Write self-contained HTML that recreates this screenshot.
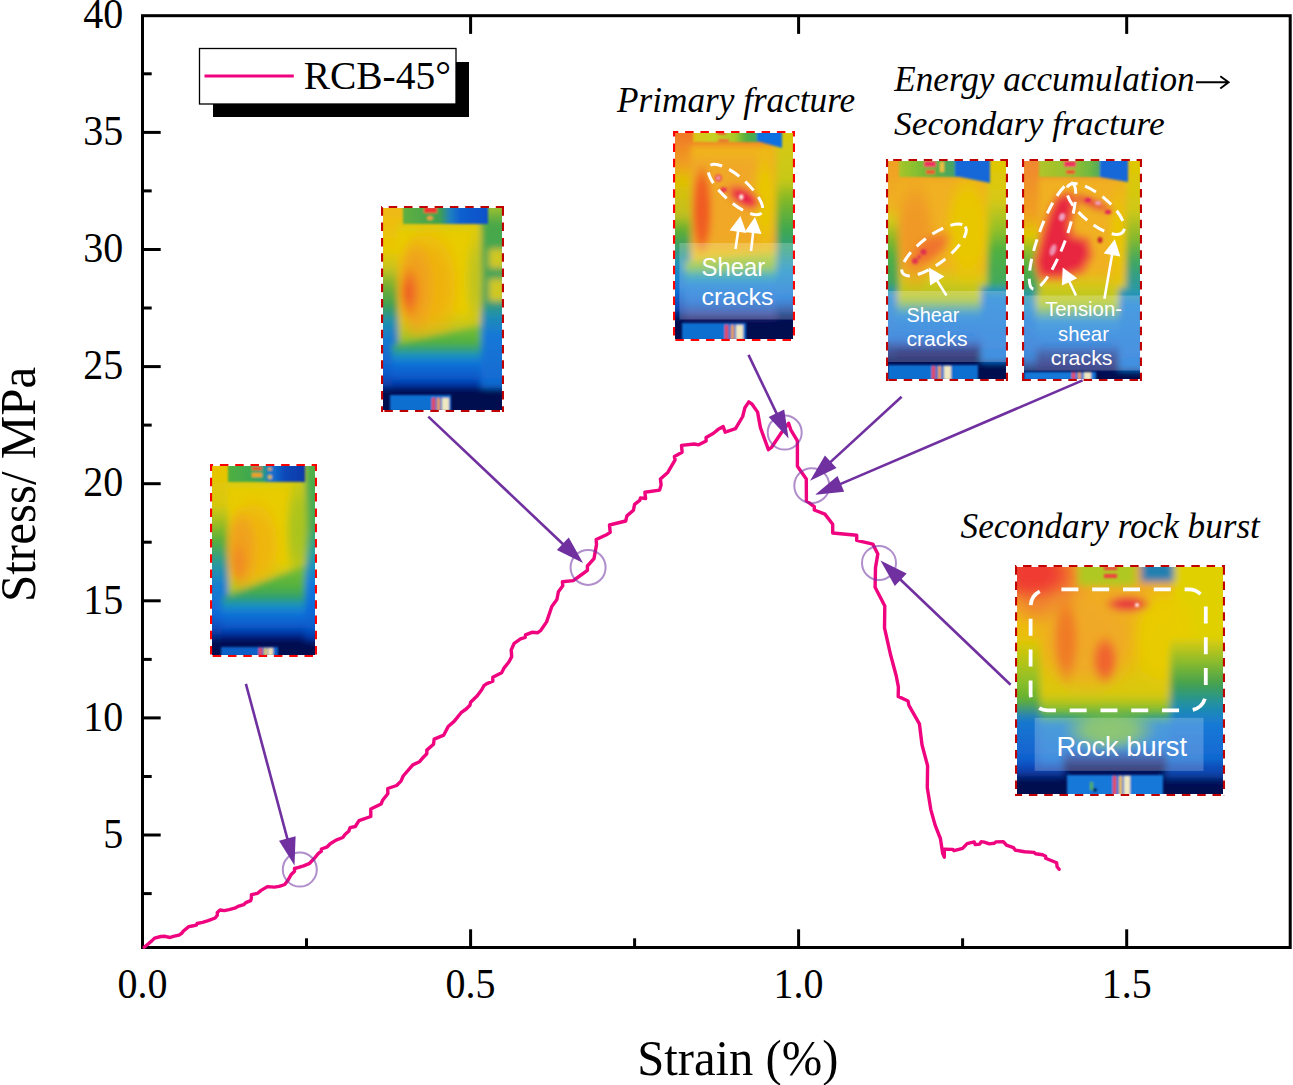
<!DOCTYPE html>
<html><head><meta charset="utf-8"><style>
html,body{margin:0;padding:0;background:#fff;overflow:hidden;}
svg{display:block;}
.serif{font-family:"Liberation Serif",serif;}
.sans{font-family:"Liberation Sans",sans-serif;}
</style></head><body>
<svg width="1293" height="1085" viewBox="0 0 1293 1085">
<defs>
<filter id="blur3" x="-5%" y="-5%" width="110%" height="110%"><feGaussianBlur stdDeviation="3"/></filter>
<filter id="blur5" x="-5%" y="-5%" width="110%" height="110%"><feGaussianBlur stdDeviation="5"/></filter>
</defs>
<rect width="1293" height="1085" fill="#fff"/>

<g stroke="#000" stroke-width="3" fill="none" stroke-linecap="square">
<rect x="142.5" y="15.7" width="1147.7" height="931.8"/>
<line x1="142.5" y1="893.6" x2="151.7" y2="893.6" stroke-linecap="butt"/>
<line x1="142.5" y1="835.0" x2="160.7" y2="835.0" stroke-linecap="butt"/>
<line x1="142.5" y1="776.5" x2="151.7" y2="776.5" stroke-linecap="butt"/>
<line x1="142.5" y1="717.9" x2="160.7" y2="717.9" stroke-linecap="butt"/>
<line x1="142.5" y1="659.4" x2="151.7" y2="659.4" stroke-linecap="butt"/>
<line x1="142.5" y1="600.8" x2="160.7" y2="600.8" stroke-linecap="butt"/>
<line x1="142.5" y1="542.2" x2="151.7" y2="542.2" stroke-linecap="butt"/>
<line x1="142.5" y1="483.7" x2="160.7" y2="483.7" stroke-linecap="butt"/>
<line x1="142.5" y1="425.1" x2="151.7" y2="425.1" stroke-linecap="butt"/>
<line x1="142.5" y1="366.6" x2="160.7" y2="366.6" stroke-linecap="butt"/>
<line x1="142.5" y1="308.0" x2="151.7" y2="308.0" stroke-linecap="butt"/>
<line x1="142.5" y1="249.5" x2="160.7" y2="249.5" stroke-linecap="butt"/>
<line x1="142.5" y1="190.9" x2="151.7" y2="190.9" stroke-linecap="butt"/>
<line x1="142.5" y1="132.4" x2="160.7" y2="132.4" stroke-linecap="butt"/>
<line x1="142.5" y1="73.8" x2="151.7" y2="73.8" stroke-linecap="butt"/>
<line x1="306.5" y1="947.5" x2="306.5" y2="938.3" stroke-linecap="butt"/>
<line x1="470.6" y1="947.5" x2="470.6" y2="929.3" stroke-linecap="butt"/>
<line x1="470.6" y1="15.7" x2="470.6" y2="33.9" stroke-linecap="butt"/>
<line x1="634.6" y1="947.5" x2="634.6" y2="938.3" stroke-linecap="butt"/>
<line x1="798.6" y1="947.5" x2="798.6" y2="929.3" stroke-linecap="butt"/>
<line x1="798.6" y1="15.7" x2="798.6" y2="33.9" stroke-linecap="butt"/>
<line x1="962.6" y1="947.5" x2="962.6" y2="938.3" stroke-linecap="butt"/>
<line x1="1126.7" y1="947.5" x2="1126.7" y2="929.3" stroke-linecap="butt"/>
<line x1="1126.7" y1="15.7" x2="1126.7" y2="33.9" stroke-linecap="butt"/>
</g>
<g class="serif" font-size="40" fill="#000">
<text transform="translate(123.3,847.7) scale(1,1.055)" text-anchor="end">5</text>
<text transform="translate(123.3,730.6) scale(1,1.055)" text-anchor="end">10</text>
<text transform="translate(123.3,613.5) scale(1,1.055)" text-anchor="end">15</text>
<text transform="translate(123.3,496.4) scale(1,1.055)" text-anchor="end">20</text>
<text transform="translate(123.3,379.3) scale(1,1.055)" text-anchor="end">25</text>
<text transform="translate(123.3,262.2) scale(1,1.055)" text-anchor="end">30</text>
<text transform="translate(123.3,145.1) scale(1,1.055)" text-anchor="end">35</text>
<text transform="translate(123.3,28.0) scale(1,1.055)" text-anchor="end">40</text>
<text transform="translate(142.5,998.4) scale(1,1.055)" text-anchor="middle">0.0</text>
<text transform="translate(470.6,998.4) scale(1,1.055)" text-anchor="middle">0.5</text>
<text transform="translate(798.6,998.4) scale(1,1.055)" text-anchor="middle">1.0</text>
<text transform="translate(1126.7,998.4) scale(1,1.055)" text-anchor="middle">1.5</text>
</g>
<text class="serif" x="637.15" y="1075.10" font-size="51.05" textLength="201.19" lengthAdjust="spacingAndGlyphs" fill="#000">Strain (%)</text>
<g transform="translate(34.8,598.7) rotate(-90)"><text class="serif" x="-3.27" y="0.00" font-size="51.05" textLength="235.24" lengthAdjust="spacingAndGlyphs" fill="#000">Stress/ MPa</text></g>
<rect x="213" y="62" width="256" height="55" fill="#000"/>
<rect x="199.5" y="48.5" width="256.5" height="55.5" fill="#fff" stroke="#000" stroke-width="1.3"/>
<line x1="204.5" y1="75.9" x2="293.8" y2="75.9" stroke="#EF037F" stroke-width="3"/>
<text class="serif" x="303.66" y="88.90" font-size="40.47" textLength="147.26" lengthAdjust="spacingAndGlyphs" fill="#000">RCB-45°</text>
<clipPath id="cl1"><rect x="212.1" y="466.1" width="102.8" height="188.8"/></clipPath>
<g clip-path="url(#cl1)">
<filter id="bf1" x="170" y="424" width="187" height="273" filterUnits="userSpaceOnUse"><feGaussianBlur stdDeviation="3"/></filter>
<g filter="url(#bf1)">
<linearGradient id="g1" gradientUnits="userSpaceOnUse" x1="0" y1="466" x2="0" y2="672"><stop offset="0.0000" stop-color="#E8C400"/><stop offset="0.1893" stop-color="#D8C810"/><stop offset="0.2621" stop-color="#A8C020"/><stop offset="0.3592" stop-color="#58B038"/><stop offset="0.4806" stop-color="#2898A0"/><stop offset="0.5777" stop-color="#1880D0"/><stop offset="0.7233" stop-color="#1068D8"/><stop offset="0.8058" stop-color="#0840B0"/><stop offset="0.8544" stop-color="#000850"/><stop offset="1.0000" stop-color="#000850"/></linearGradient>
<rect x="195" y="450" width="137" height="222" fill="url(#g1)" />
<linearGradient id="g2" gradientUnits="userSpaceOnUse" x1="0" y1="470" x2="0" y2="650"><stop offset="0.0000" stop-color="#50B048"/><stop offset="0.3056" stop-color="#40A858"/><stop offset="0.4722" stop-color="#20A0A8"/><stop offset="0.6389" stop-color="#1078E0"/><stop offset="0.8611" stop-color="#0860D0"/><stop offset="0.9444" stop-color="#0030A0"/><stop offset="1.0000" stop-color="#000850"/></linearGradient>
<rect x="304" y="450" width="28" height="222" fill="url(#g2)" />
<linearGradient id="g3" gradientUnits="userSpaceOnUse" x1="0" y1="482" x2="0" y2="598"><stop offset="0.0000" stop-color="#D8CC10"/><stop offset="0.0862" stop-color="#E8CC00"/><stop offset="0.6724" stop-color="#E8CC00"/><stop offset="0.8448" stop-color="#C8C818"/><stop offset="1.0000" stop-color="#90C028"/></linearGradient>
<polygon points="228,482 305,482 305,565 228,598" fill="url(#g3)" />
<radialGradient id="r4"><stop offset="0" stop-color="#A8C420" stop-opacity="1"/><stop offset="0.45" stop-color="#A8C420" stop-opacity="0.9"/><stop offset="1" stop-color="#A8C420" stop-opacity="0"/></radialGradient>
<ellipse cx="298" cy="530" rx="14" ry="60" fill="url(#r4)" transform="rotate(0 298 530)"/>
<radialGradient id="r5"><stop offset="0" stop-color="#F0B410" stop-opacity="1"/><stop offset="0.5" stop-color="#F0B410" stop-opacity="0.9"/><stop offset="1" stop-color="#F0B410" stop-opacity="0"/></radialGradient>
<ellipse cx="254" cy="545" rx="30" ry="52" fill="url(#r5)" transform="rotate(0 254 545)"/>
<radialGradient id="r6"><stop offset="0" stop-color="#F0A020" stop-opacity="1"/><stop offset="0.55" stop-color="#F0A020" stop-opacity="0.9"/><stop offset="1" stop-color="#F0A020" stop-opacity="0"/></radialGradient>
<ellipse cx="241" cy="550" rx="17" ry="44" fill="url(#r6)" transform="rotate(0 241 550)"/>
<radialGradient id="r7"><stop offset="0" stop-color="#F08C20" stop-opacity="1"/><stop offset="0.45" stop-color="#F08C20" stop-opacity="0.9"/><stop offset="1" stop-color="#F08C20" stop-opacity="0"/></radialGradient>
<ellipse cx="239" cy="562" rx="9" ry="22" fill="url(#r7)" transform="rotate(0 239 562)"/>
<linearGradient id="g8" gradientUnits="userSpaceOnUse" x1="0" y1="565" x2="0" y2="641"><stop offset="0.0000" stop-color="#80C030"/><stop offset="0.3026" stop-color="#50B040"/><stop offset="0.4342" stop-color="#30A070"/><stop offset="0.5395" stop-color="#1890C8"/><stop offset="0.6579" stop-color="#1070D8"/><stop offset="0.8158" stop-color="#0858C8"/><stop offset="0.9079" stop-color="#0030A0"/><stop offset="1.0000" stop-color="#000850"/></linearGradient>
<polygon points="222,598 305,565 305,650 222,650" fill="url(#g8)" />
<rect x="195" y="641" width="137" height="31" fill="#000850" />
</g>
<filter id="bf2" x="170" y="424" width="187" height="273" filterUnits="userSpaceOnUse"><feGaussianBlur stdDeviation="1.2"/></filter>
<g filter="url(#bf2)">
<linearGradient id="g9" gradientUnits="userSpaceOnUse" x1="228" y1="0" x2="305" y2="0"><stop offset="0.0000" stop-color="#50B040"/><stop offset="0.2857" stop-color="#40A850"/><stop offset="0.4416" stop-color="#30A070"/><stop offset="0.5455" stop-color="#1878D0"/><stop offset="0.7403" stop-color="#0848B8"/><stop offset="1.0000" stop-color="#0838A8"/></linearGradient>
<rect x="228" y="460" width="77" height="22" fill="url(#g9)" />
<rect x="252" y="467" width="10" height="3" fill="#F04020" />
<rect x="252" y="473" width="10" height="4" fill="#F0A020" />
<ellipse cx="270" cy="477" rx="2" ry="2" fill="#F0C020" transform="rotate(0 270 477)" />
<ellipse cx="270" cy="469" rx="2" ry="1.5" fill="#F0B020" transform="rotate(0 270 469)" />
<rect x="221" y="647" width="57" height="9" fill="#1060C8" />
<rect x="259" y="648" width="3" height="8" fill="#F04040" />
<rect x="264" y="648" width="3" height="8" fill="#E0D060" />
<rect x="268" y="648" width="5" height="8" fill="#F0E0B0" />
</g>
</g>
<line x1="210" y1="465.05" x2="317" y2="465.05" stroke="#FF0000" stroke-width="2.1" stroke-dasharray="8.5 6.8" stroke-dashoffset="5.40"/>
<line x1="211.05" y1="464" x2="211.05" y2="657" stroke="#FF0000" stroke-width="2.1" stroke-dasharray="8.5 6.8" stroke-dashoffset="1.50"/>
<line x1="315.95" y1="464" x2="315.95" y2="657" stroke="#FF0000" stroke-width="2.1" stroke-dasharray="8.5 6.8" stroke-dashoffset="1.50"/>
<line x1="317" y1="655.95" x2="210" y2="655.95" stroke="#FF0000" stroke-width="2.1" stroke-dasharray="8.5 6.8" stroke-dashoffset="11.30"/>
<clipPath id="cl2"><rect x="383.1" y="208.1" width="118.8" height="201.8"/></clipPath>
<g clip-path="url(#cl2)">
<filter id="bf3" x="341" y="166" width="203" height="286" filterUnits="userSpaceOnUse"><feGaussianBlur stdDeviation="3"/></filter>
<g filter="url(#bf3)">
<linearGradient id="g10" gradientUnits="userSpaceOnUse" x1="0" y1="207" x2="0" y2="428"><stop offset="0.0000" stop-color="#F0B818"/><stop offset="0.1946" stop-color="#E8C800"/><stop offset="0.2760" stop-color="#C8C420"/><stop offset="0.3529" stop-color="#78B030"/><stop offset="0.4434" stop-color="#40A050"/><stop offset="0.5204" stop-color="#2090B0"/><stop offset="0.6018" stop-color="#1878D0"/><stop offset="0.7376" stop-color="#1060D0"/><stop offset="0.8054" stop-color="#0840B0"/><stop offset="0.8507" stop-color="#000850"/><stop offset="1.0000" stop-color="#000850"/></linearGradient>
<rect x="366" y="192" width="154" height="236" fill="url(#g10)" />
<linearGradient id="g11" gradientUnits="userSpaceOnUse" x1="0" y1="207" x2="0" y2="408"><stop offset="0.0000" stop-color="#A0C030"/><stop offset="0.0846" stop-color="#48A848"/><stop offset="0.4627" stop-color="#40A060"/><stop offset="0.5373" stop-color="#2090B0"/><stop offset="0.6368" stop-color="#1878D8"/><stop offset="0.9104" stop-color="#1068D0"/><stop offset="0.9602" stop-color="#0840B0"/><stop offset="1.0000" stop-color="#000850"/></linearGradient>
<rect x="479" y="192" width="41" height="236" fill="url(#g11)" />
<rect x="489" y="249" width="17" height="19" fill="#D0C820" />
<rect x="489" y="279" width="17" height="22" fill="#D0C820" />
<linearGradient id="g12" gradientUnits="userSpaceOnUse" x1="0" y1="224" x2="0" y2="345"><stop offset="0.0000" stop-color="#D8CC10"/><stop offset="0.0909" stop-color="#E8CC00"/><stop offset="0.7107" stop-color="#E8CC00"/><stop offset="0.8760" stop-color="#C0C420"/><stop offset="1.0000" stop-color="#90C028"/></linearGradient>
<polygon points="398,224 481,224 481,325 398,345" fill="url(#g12)" />
<radialGradient id="r13"><stop offset="0" stop-color="#C0C420" stop-opacity="1"/><stop offset="0.45" stop-color="#C0C420" stop-opacity="0.9"/><stop offset="1" stop-color="#C0C420" stop-opacity="0"/></radialGradient>
<ellipse cx="475" cy="280" rx="10" ry="55" fill="url(#r13)" transform="rotate(0 475 280)"/>
<radialGradient id="r14"><stop offset="0" stop-color="#F0B010" stop-opacity="1"/><stop offset="0.5" stop-color="#F0B010" stop-opacity="0.9"/><stop offset="1" stop-color="#F0B010" stop-opacity="0"/></radialGradient>
<ellipse cx="428" cy="285" rx="36" ry="62" fill="url(#r14)" transform="rotate(0 428 285)"/>
<radialGradient id="r15"><stop offset="0" stop-color="#F0A020" stop-opacity="1"/><stop offset="0.55" stop-color="#F0A020" stop-opacity="0.9"/><stop offset="1" stop-color="#F0A020" stop-opacity="0"/></radialGradient>
<ellipse cx="415" cy="287" rx="20" ry="52" fill="url(#r15)" transform="rotate(0 415 287)"/>
<radialGradient id="r16"><stop offset="0" stop-color="#F07820" stop-opacity="1"/><stop offset="0.5" stop-color="#F07820" stop-opacity="0.9"/><stop offset="1" stop-color="#F07820" stop-opacity="0"/></radialGradient>
<ellipse cx="410" cy="292" rx="11" ry="28" fill="url(#r16)" transform="rotate(0 410 292)"/>
<radialGradient id="r17"><stop offset="0" stop-color="#EE6020" stop-opacity="1"/><stop offset="0.4" stop-color="#EE6020" stop-opacity="0.9"/><stop offset="1" stop-color="#EE6020" stop-opacity="0"/></radialGradient>
<ellipse cx="408" cy="292" rx="6" ry="16" fill="url(#r17)" transform="rotate(0 408 292)"/>
<linearGradient id="g18" gradientUnits="userSpaceOnUse" x1="0" y1="325" x2="0" y2="392"><stop offset="0.0000" stop-color="#80C030"/><stop offset="0.2687" stop-color="#50B040"/><stop offset="0.3731" stop-color="#30A080"/><stop offset="0.4627" stop-color="#1890C8"/><stop offset="0.5821" stop-color="#1070D8"/><stop offset="0.7910" stop-color="#0858C8"/><stop offset="0.9104" stop-color="#0030A0"/><stop offset="1.0000" stop-color="#000850"/></linearGradient>
<polygon points="392,345 481,325 481,398 392,398" fill="url(#g18)" />
<rect x="366" y="388" width="154" height="40" fill="#000850" />
</g>
<filter id="bf4" x="341" y="166" width="203" height="286" filterUnits="userSpaceOnUse"><feGaussianBlur stdDeviation="1.2"/></filter>
<g filter="url(#bf4)">
<linearGradient id="g19" gradientUnits="userSpaceOnUse" x1="403" y1="0" x2="488" y2="0"><stop offset="0.0000" stop-color="#60B040"/><stop offset="0.4353" stop-color="#40A050"/><stop offset="0.5529" stop-color="#2080C0"/><stop offset="0.6706" stop-color="#1060D0"/><stop offset="1.0000" stop-color="#1050C8"/></linearGradient>
<rect x="403" y="202" width="85" height="22" fill="url(#g19)" />
<rect x="424" y="207" width="13" height="6" fill="#F03030" />
<ellipse cx="430" cy="218" rx="3" ry="2" fill="#F0A040" transform="rotate(0 430 218)" />
<rect x="390" y="395" width="61" height="16" fill="#1070D0" />
<rect x="432" y="398" width="3" height="13" fill="#F04040" />
<rect x="437" y="398" width="3" height="13" fill="#F0A040" />
<rect x="442" y="398" width="7" height="13" fill="#F0E8C0" />
</g>
</g>
<line x1="381" y1="207.05" x2="504" y2="207.05" stroke="#C00000" stroke-width="2.1" stroke-dasharray="8.5 6.8" stroke-dashoffset="7.60"/>
<line x1="382.05" y1="206" x2="382.05" y2="412" stroke="#C00000" stroke-width="2.1" stroke-dasharray="8.5 6.8" stroke-dashoffset="14.00"/>
<line x1="502.95" y1="206" x2="502.95" y2="412" stroke="#C00000" stroke-width="2.1" stroke-dasharray="8.5 6.8" stroke-dashoffset="14.00"/>
<line x1="504" y1="410.95" x2="381" y2="410.95" stroke="#C00000" stroke-width="2.1" stroke-dasharray="8.5 6.8" stroke-dashoffset="11.30"/>
<clipPath id="cl3"><rect x="675.1" y="133.1" width="117.8" height="205.8"/></clipPath>
<g clip-path="url(#cl3)">
<filter id="bf5" x="633" y="91" width="202" height="290" filterUnits="userSpaceOnUse"><feGaussianBlur stdDeviation="3"/></filter>
<g filter="url(#bf5)">
<linearGradient id="g20" gradientUnits="userSpaceOnUse" x1="0" y1="133" x2="0" y2="320"><stop offset="0.0000" stop-color="#F07828"/><stop offset="0.1711" stop-color="#F0A020"/><stop offset="0.2513" stop-color="#E0C000"/><stop offset="0.4385" stop-color="#C0C020"/><stop offset="0.5187" stop-color="#60B030"/><stop offset="0.5989" stop-color="#40A060"/><stop offset="0.7059" stop-color="#2090C0"/><stop offset="0.8396" stop-color="#1070D8"/><stop offset="0.9465" stop-color="#0840B0"/><stop offset="1.0000" stop-color="#000850"/></linearGradient>
<rect x="658" y="118" width="152" height="237" fill="url(#g20)" />
<linearGradient id="g21" gradientUnits="userSpaceOnUse" x1="0" y1="133" x2="0" y2="320"><stop offset="0.0000" stop-color="#D8C810"/><stop offset="0.2513" stop-color="#C8C818"/><stop offset="0.3583" stop-color="#80B828"/><stop offset="0.5187" stop-color="#40A850"/><stop offset="0.6257" stop-color="#30A080"/><stop offset="0.7326" stop-color="#1890C8"/><stop offset="0.8930" stop-color="#1070D8"/><stop offset="1.0000" stop-color="#000850"/></linearGradient>
<rect x="775" y="118" width="35" height="237" fill="url(#g21)" />
<linearGradient id="g22" gradientUnits="userSpaceOnUse" x1="0" y1="146" x2="0" y2="268"><stop offset="0.0000" stop-color="#F0B818"/><stop offset="0.1557" stop-color="#F0A828"/><stop offset="0.7705" stop-color="#F0A828"/><stop offset="0.8934" stop-color="#E8C010"/><stop offset="1.0000" stop-color="#C8C820"/></linearGradient>
<polygon points="691,146 776,146 776,252 691,262" fill="url(#g22)" />
<radialGradient id="r23"><stop offset="0" stop-color="#E8C800" stop-opacity="1"/><stop offset="0.45" stop-color="#E8C800" stop-opacity="0.9"/><stop offset="1" stop-color="#E8C800" stop-opacity="0"/></radialGradient>
<ellipse cx="765" cy="200" rx="14" ry="60" fill="url(#r23)" transform="rotate(0 765 200)"/>
<radialGradient id="r24"><stop offset="0" stop-color="#F05820" stop-opacity="1"/><stop offset="0.6" stop-color="#F05820" stop-opacity="0.9"/><stop offset="1" stop-color="#F05820" stop-opacity="0"/></radialGradient>
<ellipse cx="702" cy="210" rx="11" ry="48" fill="url(#r24)" transform="rotate(0 702 210)"/>
<radialGradient id="r25"><stop offset="0" stop-color="#F05040" stop-opacity="1"/><stop offset="0.5" stop-color="#F05040" stop-opacity="0.9"/><stop offset="1" stop-color="#F05040" stop-opacity="0"/></radialGradient>
<ellipse cx="744" cy="197" rx="22" ry="11" fill="url(#r25)" transform="rotate(30 744 197)"/>
<radialGradient id="r26"><stop offset="0" stop-color="#E8104A" stop-opacity="1"/><stop offset="0.65" stop-color="#E8104A" stop-opacity="0.9"/><stop offset="1" stop-color="#E8104A" stop-opacity="0"/></radialGradient>
<ellipse cx="744" cy="198" rx="15" ry="7" fill="url(#r26)" transform="rotate(30 744 198)"/>
<linearGradient id="g27" gradientUnits="userSpaceOnUse" x1="0" y1="252" x2="0" y2="318"><stop offset="0.0000" stop-color="#C8C820"/><stop offset="0.2424" stop-color="#80C040"/><stop offset="0.3485" stop-color="#20A0B0"/><stop offset="0.5000" stop-color="#1880D8"/><stop offset="0.7273" stop-color="#1070D8"/><stop offset="0.8788" stop-color="#2050B0"/><stop offset="1.0000" stop-color="#302880"/></linearGradient>
<polygon points="685,262 776,252 776,322 685,322" fill="url(#g27)" />
<rect x="658" y="318" width="152" height="37" fill="#000850" />
</g>
<filter id="bf6" x="633" y="91" width="202" height="290" filterUnits="userSpaceOnUse"><feGaussianBlur stdDeviation="1.2"/></filter>
<g filter="url(#bf6)">
<linearGradient id="g28" gradientUnits="userSpaceOnUse" x1="693" y1="0" x2="758" y2="0"><stop offset="0.0000" stop-color="#E0C018"/><stop offset="0.2923" stop-color="#C8D020"/><stop offset="0.6462" stop-color="#A8C828"/><stop offset="0.8154" stop-color="#50B040"/><stop offset="1.0000" stop-color="#40A860"/></linearGradient>
<rect x="693" y="128" width="65" height="14" fill="url(#g28)" />
<polygon points="757,128 782,128 782,148 757,141" fill="#1070E0" />
<rect x="717" y="132" width="9" height="2.5" fill="#F03030" />
<rect x="718" y="139" width="11" height="2.5" fill="#F06030" />
<ellipse cx="741.3" cy="197" rx="2.2" ry="2.8" fill="#FFF0E0" transform="rotate(0 741.3 197)" />
<radialGradient id="r29"><stop offset="0" stop-color="#E83060" stop-opacity="1"/><stop offset="0.5" stop-color="#E83060" stop-opacity="0.9"/><stop offset="1" stop-color="#E83060" stop-opacity="0"/></radialGradient>
<ellipse cx="718.4" cy="178" rx="4.5" ry="4.5" fill="url(#r29)" transform="rotate(0 718.4 178)"/>
<ellipse cx="718.4" cy="178" rx="1.5" ry="1.5" fill="#F8C0D0" transform="rotate(0 718.4 178)" />
<radialGradient id="r30"><stop offset="0" stop-color="#E83050" stop-opacity="1"/><stop offset="0.5" stop-color="#E83050" stop-opacity="0.9"/><stop offset="1" stop-color="#E83050" stop-opacity="0"/></radialGradient>
<ellipse cx="723.6" cy="189.7" rx="4.5" ry="3.5" fill="url(#r30)" transform="rotate(0 723.6 189.7)"/>
<rect x="682" y="323" width="64" height="17" fill="#1070D0" />
<rect x="725" y="325" width="3" height="15" fill="#F04040" />
<rect x="731" y="325" width="3" height="15" fill="#F0A040" />
<rect x="736" y="325" width="7" height="15" fill="#F0E8C0" />
</g>
</g>
<rect x="679.4" y="243" width="114.60000000000002" height="76.5" fill="#fff" fill-opacity="0.22"/>
<line x1="673" y1="132.05" x2="795" y2="132.05" stroke="#FF0000" stroke-width="2.1" stroke-dasharray="8.5 6.8" stroke-dashoffset="3.20"/>
<line x1="674.05" y1="131" x2="674.05" y2="341" stroke="#FF0000" stroke-width="2.1" stroke-dasharray="8.5 6.8" stroke-dashoffset="2.90"/>
<line x1="793.95" y1="131" x2="793.95" y2="341" stroke="#FF0000" stroke-width="2.1" stroke-dasharray="8.5 6.8" stroke-dashoffset="2.90"/>
<line x1="795" y1="339.95" x2="673" y2="339.95" stroke="#FF0000" stroke-width="2.1" stroke-dasharray="8.5 6.8" stroke-dashoffset="11.30"/>
<ellipse cx="735.5" cy="189.5" rx="35" ry="12.5" fill="none" stroke="#fff" stroke-width="3" stroke-dasharray="12 8" transform="rotate(42 735.5 189.5)"/>
<line x1="735.5" y1="249" x2="738.2" y2="230.8" stroke="#fff" stroke-width="2.6"/>
<polygon points="740.4,216.0 746.5,233.1 729.6,230.6" fill="#fff"/>
<line x1="751" y1="251" x2="753.2" y2="231.9" stroke="#fff" stroke-width="2.6"/>
<polygon points="755.0,217.0 761.6,233.9 744.7,231.9" fill="#fff"/>
<text class="sans" x="701.52" y="276.30" font-size="25.92" textLength="63.58" lengthAdjust="spacingAndGlyphs" fill="#fff">Shear</text>
<text class="sans" x="701.54" y="304.90" font-size="24.01" textLength="71.96" lengthAdjust="spacingAndGlyphs" fill="#fff">cracks</text>
<clipPath id="cl4"><rect x="888.1" y="161.1" width="117.8" height="217.8"/></clipPath>
<g clip-path="url(#cl4)">
<filter id="bf7" x="846" y="119" width="202" height="302" filterUnits="userSpaceOnUse"><feGaussianBlur stdDeviation="3"/></filter>
<g filter="url(#bf7)">
<linearGradient id="g31" gradientUnits="userSpaceOnUse" x1="0" y1="161" x2="0" y2="360"><stop offset="0.0000" stop-color="#F0A020"/><stop offset="0.2211" stop-color="#F0B020"/><stop offset="0.2965" stop-color="#D8C818"/><stop offset="0.3970" stop-color="#80B828"/><stop offset="0.4724" stop-color="#50B040"/><stop offset="0.6482" stop-color="#40A060"/><stop offset="0.7236" stop-color="#2088D0"/><stop offset="0.8492" stop-color="#1870D8"/><stop offset="0.9246" stop-color="#303890"/><stop offset="1.0000" stop-color="#000850"/></linearGradient>
<rect x="872" y="145" width="150" height="250" fill="url(#g31)" />
<linearGradient id="g32" gradientUnits="userSpaceOnUse" x1="0" y1="161" x2="0" y2="375"><stop offset="0.0000" stop-color="#E0C800"/><stop offset="0.1822" stop-color="#D8C818"/><stop offset="0.3224" stop-color="#90C028"/><stop offset="0.4159" stop-color="#50B040"/><stop offset="0.6028" stop-color="#40A860"/><stop offset="0.6729" stop-color="#1880D8"/><stop offset="0.8364" stop-color="#1070D8"/><stop offset="0.9299" stop-color="#0850C0"/><stop offset="1.0000" stop-color="#000850"/></linearGradient>
<rect x="987" y="145" width="35" height="250" fill="url(#g32)" />
<linearGradient id="g33" gradientUnits="userSpaceOnUse" x1="0" y1="180" x2="0" y2="292"><stop offset="0.0000" stop-color="#F0B020"/><stop offset="0.7589" stop-color="#F0B020"/><stop offset="0.8929" stop-color="#D8C818"/><stop offset="1.0000" stop-color="#B8C420"/></linearGradient>
<polygon points="899,180 987,180 987,292 899,292" fill="url(#g33)" />
<radialGradient id="r34"><stop offset="0" stop-color="#F09828" stop-opacity="1"/><stop offset="0.5" stop-color="#F09828" stop-opacity="0.9"/><stop offset="1" stop-color="#F09828" stop-opacity="0"/></radialGradient>
<ellipse cx="915" cy="235" rx="22" ry="60" fill="url(#r34)" transform="rotate(0 915 235)"/>
<radialGradient id="r35"><stop offset="0" stop-color="#E8C800" stop-opacity="1"/><stop offset="0.6" stop-color="#E8C800" stop-opacity="0.9"/><stop offset="1" stop-color="#E8C800" stop-opacity="0"/></radialGradient>
<ellipse cx="968" cy="230" rx="25" ry="60" fill="url(#r35)" transform="rotate(0 968 230)"/>
<radialGradient id="r36"><stop offset="0" stop-color="#F07030" stop-opacity="1"/><stop offset="0.5" stop-color="#F07030" stop-opacity="0.9"/><stop offset="1" stop-color="#F07030" stop-opacity="0"/></radialGradient>
<ellipse cx="930" cy="249" rx="28" ry="13" fill="url(#r36)" transform="rotate(-37 930 249)"/>
<linearGradient id="g37" gradientUnits="userSpaceOnUse" x1="0" y1="291" x2="0" y2="362"><stop offset="0.0000" stop-color="#C8C820"/><stop offset="0.1408" stop-color="#A0C030"/><stop offset="0.2535" stop-color="#40A0A0"/><stop offset="0.3521" stop-color="#1880D8"/><stop offset="0.6338" stop-color="#1070D8"/><stop offset="0.7183" stop-color="#1860C8"/><stop offset="0.8310" stop-color="#101870"/><stop offset="1.0000" stop-color="#000850"/></linearGradient>
<rect x="896" y="291" width="86" height="72" fill="url(#g37)" />
<linearGradient id="g38" gradientUnits="userSpaceOnUse" x1="0" y1="286" x2="0" y2="362"><stop offset="0.0000" stop-color="#30A080"/><stop offset="0.1316" stop-color="#2088D0"/><stop offset="0.6842" stop-color="#1870D8"/><stop offset="0.8421" stop-color="#102880"/><stop offset="1.0000" stop-color="#000850"/></linearGradient>
<rect x="872" y="286" width="25" height="77" fill="url(#g38)" />
<linearGradient id="g39" gradientUnits="userSpaceOnUse" x1="0" y1="286" x2="0" y2="362"><stop offset="0.0000" stop-color="#30A0A0"/><stop offset="0.1579" stop-color="#1880D8"/><stop offset="1.0000" stop-color="#1070D8"/></linearGradient>
<rect x="981" y="286" width="41" height="77" fill="url(#g39)" />
<rect x="872" y="362" width="150" height="33" fill="#000850" />
</g>
<filter id="bf8" x="846" y="119" width="202" height="302" filterUnits="userSpaceOnUse"><feGaussianBlur stdDeviation="1.2"/></filter>
<g filter="url(#bf8)">
<linearGradient id="g40" gradientUnits="userSpaceOnUse" x1="899" y1="0" x2="958" y2="0"><stop offset="0.0000" stop-color="#A8C428"/><stop offset="0.2712" stop-color="#88C030"/><stop offset="0.6102" stop-color="#60B040"/><stop offset="1.0000" stop-color="#40A070"/></linearGradient>
<rect x="899" y="150" width="59" height="27" fill="url(#g40)" />
<polygon points="955,150 990,150 990,183 955,176" fill="#1868D8" />
<rect x="924" y="161" width="12" height="6" fill="#F03060" />
<rect x="926" y="170" width="9" height="4" fill="#F05030" />
<rect x="940" y="162" width="4" height="10" fill="#F0C040" />
<ellipse cx="915" cy="261" rx="3" ry="3" fill="#E03050" transform="rotate(0 915 261)" />
<ellipse cx="923.5" cy="252" rx="3" ry="3" fill="#E03050" transform="rotate(0 923.5 252)" />
<ellipse cx="919" cy="257" rx="2" ry="2" fill="#E04050" transform="rotate(0 919 257)" />
<rect x="888" y="365" width="90" height="15" fill="#1070D0" />
<rect x="932" y="366" width="3" height="14" fill="#F04040" />
<rect x="938" y="366" width="3" height="14" fill="#F0A040" />
<rect x="944" y="366" width="7" height="14" fill="#F0E8C0" />
</g>
</g>
<rect x="888" y="291" width="119" height="71" fill="#fff" fill-opacity="0.22"/>
<line x1="886" y1="160.05" x2="1008" y2="160.05" stroke="#C00000" stroke-width="2.1" stroke-dasharray="8.5 6.8" stroke-dashoffset="8.10"/>
<line x1="887.05" y1="159" x2="887.05" y2="381" stroke="#C00000" stroke-width="2.1" stroke-dasharray="8.5 6.8" stroke-dashoffset="0.50"/>
<line x1="1006.95" y1="159" x2="1006.95" y2="381" stroke="#C00000" stroke-width="2.1" stroke-dasharray="8.5 6.8" stroke-dashoffset="0.50"/>
<line x1="1008" y1="379.95" x2="886" y2="379.95" stroke="#C00000" stroke-width="2.1" stroke-dasharray="8.5 6.8" stroke-dashoffset="11.30"/>
<ellipse cx="934" cy="250" rx="39" ry="14" fill="none" stroke="#fff" stroke-width="3" stroke-dasharray="12 8" transform="rotate(-37 934 250)"/>
<line x1="946.5" y1="295.5" x2="936.8" y2="280.1" stroke="#fff" stroke-width="2.6"/>
<polygon points="928.8,267.4 944.5,276.4 930.1,285.5" fill="#fff"/>
<text class="sans" x="906.40" y="322.00" font-size="20.91" textLength="53.03" lengthAdjust="spacingAndGlyphs" fill="#fff">Shear</text>
<text class="sans" x="906.40" y="346.10" font-size="19.60" textLength="61.16" lengthAdjust="spacingAndGlyphs" fill="#fff">cracks</text>
<clipPath id="cl5"><rect x="1024.1" y="161.1" width="115.8" height="217.8"/></clipPath>
<g clip-path="url(#cl5)">
<filter id="bf9" x="982" y="119" width="200" height="302" filterUnits="userSpaceOnUse"><feGaussianBlur stdDeviation="3"/></filter>
<g filter="url(#bf9)">
<linearGradient id="g41" gradientUnits="userSpaceOnUse" x1="0" y1="161" x2="0" y2="370"><stop offset="0.0000" stop-color="#F08830"/><stop offset="0.2584" stop-color="#F0A020"/><stop offset="0.3541" stop-color="#E0C800"/><stop offset="0.4258" stop-color="#90C028"/><stop offset="0.4976" stop-color="#50B040"/><stop offset="0.6411" stop-color="#40A060"/><stop offset="0.7129" stop-color="#1888D8"/><stop offset="0.8565" stop-color="#1070D8"/><stop offset="0.9043" stop-color="#302A80"/><stop offset="1.0000" stop-color="#000850"/></linearGradient>
<rect x="1008" y="145" width="148" height="250" fill="url(#g41)" />
<linearGradient id="g42" gradientUnits="userSpaceOnUse" x1="0" y1="161" x2="0" y2="378"><stop offset="0.0000" stop-color="#E0C800"/><stop offset="0.2258" stop-color="#D0C818"/><stop offset="0.3641" stop-color="#80B830"/><stop offset="0.4608" stop-color="#40A860"/><stop offset="0.6406" stop-color="#2090C0"/><stop offset="0.7327" stop-color="#1070D8"/><stop offset="0.9631" stop-color="#0850C0"/><stop offset="1.0000" stop-color="#000850"/></linearGradient>
<rect x="1126" y="145" width="30" height="250" fill="url(#g42)" />
<linearGradient id="g43" gradientUnits="userSpaceOnUse" x1="0" y1="178" x2="0" y2="296"><stop offset="0.0000" stop-color="#F0B020"/><stop offset="0.7797" stop-color="#F0B020"/><stop offset="0.9068" stop-color="#D8C818"/><stop offset="1.0000" stop-color="#B8C420"/></linearGradient>
<polygon points="1039,178 1126,178 1126,296 1039,296" fill="url(#g43)" />
<radialGradient id="r44"><stop offset="0" stop-color="#E8C800" stop-opacity="1"/><stop offset="0.45" stop-color="#E8C800" stop-opacity="0.9"/><stop offset="1" stop-color="#E8C800" stop-opacity="0"/></radialGradient>
<ellipse cx="1118" cy="240" rx="10" ry="60" fill="url(#r44)" transform="rotate(0 1118 240)"/>
<polygon points="1056,195 1070,190 1078,204 1072,226 1076,234 1090,238 1094,256 1084,274 1060,281 1038,280 1033,262 1040,232 1048,210" fill="#F07030" />
<polygon points="1058,200 1068,195 1072,205 1066,225 1070,238 1085,242 1088,255 1080,268 1060,275 1042,275 1038,262 1045,235 1052,212" fill="#E82840" />
<radialGradient id="r45"><stop offset="0" stop-color="#E84040" stop-opacity="1"/><stop offset="0.45" stop-color="#E84040" stop-opacity="0.9"/><stop offset="1" stop-color="#E84040" stop-opacity="0"/></radialGradient>
<ellipse cx="1092" cy="203" rx="26" ry="6" fill="url(#r45)" transform="rotate(22 1092 203)"/>
<linearGradient id="g46" gradientUnits="userSpaceOnUse" x1="0" y1="295" x2="0" y2="370"><stop offset="0.0000" stop-color="#C8C820"/><stop offset="0.1333" stop-color="#A8C828"/><stop offset="0.2533" stop-color="#50A890"/><stop offset="0.3467" stop-color="#2088D8"/><stop offset="0.6533" stop-color="#1070D8"/><stop offset="0.8000" stop-color="#183890"/><stop offset="1.0000" stop-color="#101870"/></linearGradient>
<rect x="1035" y="294" width="85" height="78" fill="url(#g46)" />
<linearGradient id="g47" gradientUnits="userSpaceOnUse" x1="0" y1="288" x2="0" y2="372"><stop offset="0.0000" stop-color="#30A080"/><stop offset="0.1905" stop-color="#2090C8"/><stop offset="0.3810" stop-color="#1878D8"/><stop offset="0.8333" stop-color="#1068D0"/><stop offset="1.0000" stop-color="#000850"/></linearGradient>
<rect x="1008" y="288" width="28" height="84" fill="url(#g47)" />
<linearGradient id="g48" gradientUnits="userSpaceOnUse" x1="0" y1="288" x2="0" y2="370"><stop offset="0.0000" stop-color="#30A0A0"/><stop offset="0.1951" stop-color="#1880D8"/><stop offset="1.0000" stop-color="#1070D8"/></linearGradient>
<rect x="1119" y="288" width="37" height="84" fill="url(#g48)" />
<rect x="1008" y="370" width="148" height="25" fill="#000850" />
</g>
<filter id="bf10" x="982" y="119" width="200" height="302" filterUnits="userSpaceOnUse"><feGaussianBlur stdDeviation="1.2"/></filter>
<g filter="url(#bf10)">
<linearGradient id="g49" gradientUnits="userSpaceOnUse" x1="1039" y1="0" x2="1105" y2="0"><stop offset="0.0000" stop-color="#B0C428"/><stop offset="0.4697" stop-color="#98C030"/><stop offset="0.7727" stop-color="#70B840"/><stop offset="1.0000" stop-color="#40A070"/></linearGradient>
<rect x="1039" y="150" width="66" height="27" fill="url(#g49)" />
<polygon points="1100,150 1128,150 1128,182 1100,177" fill="#1868D8" />
<rect x="1064" y="161" width="12" height="6" fill="#F03060" />
<rect x="1066" y="170" width="9" height="4" fill="#F05030" />
<ellipse cx="1053" cy="250" rx="3" ry="6" fill="#F090B0" transform="rotate(20 1053 250)" />
<ellipse cx="1062" cy="217" rx="3" ry="4" fill="#F0A0C0" transform="rotate(20 1062 217)" />
<ellipse cx="1088" cy="200" rx="3" ry="2" fill="#E02060" transform="rotate(0 1088 200)" />
<ellipse cx="1098" cy="203" rx="3" ry="2" fill="#F0A0C0" transform="rotate(0 1098 203)" />
<ellipse cx="1108" cy="212" rx="3" ry="2" fill="#E02060" transform="rotate(0 1108 212)" />
<ellipse cx="1100" cy="240" rx="2.5" ry="3" fill="#C82030" transform="rotate(0 1100 240)" />
<rect x="1024" y="372" width="72" height="8" fill="#1878D8" />
<rect x="1072" y="372" width="3" height="8" fill="#F04040" />
<rect x="1078" y="372" width="3" height="8" fill="#F0A040" />
<rect x="1084" y="372" width="7" height="8" fill="#F0E8C0" />
</g>
</g>
<rect x="1024" y="295.5" width="117" height="75.0" fill="#fff" fill-opacity="0.22"/>
<line x1="1022" y1="160.05" x2="1142" y2="160.05" stroke="#C00000" stroke-width="2.1" stroke-dasharray="8.5 6.8" stroke-dashoffset="7.80"/>
<line x1="1023.05" y1="159" x2="1023.05" y2="381" stroke="#C00000" stroke-width="2.1" stroke-dasharray="8.5 6.8" stroke-dashoffset="0.50"/>
<line x1="1140.95" y1="159" x2="1140.95" y2="381" stroke="#C00000" stroke-width="2.1" stroke-dasharray="8.5 6.8" stroke-dashoffset="0.50"/>
<line x1="1142" y1="379.95" x2="1022" y2="379.95" stroke="#C00000" stroke-width="2.1" stroke-dasharray="8.5 6.8" stroke-dashoffset="11.30"/>
<ellipse cx="1052.5" cy="236" rx="56.5" ry="13.5" fill="none" stroke="#fff" stroke-width="3" stroke-dasharray="12 8" transform="rotate(-69.8 1052.5 236)"/>
<ellipse cx="1095.5" cy="209" rx="35.8" ry="14" fill="none" stroke="#fff" stroke-width="3" stroke-dasharray="12 8" transform="rotate(40 1095.5 209)"/>
<line x1="1076" y1="295.5" x2="1069.1" y2="281.0" stroke="#fff" stroke-width="2.6"/>
<polygon points="1062.7,267.4 1077.2,278.2 1061.9,285.5" fill="#fff"/>
<line x1="1104.4" y1="298.7" x2="1112.2" y2="254.1" stroke="#fff" stroke-width="2.6"/>
<polygon points="1114.8,239.3 1120.4,256.5 1103.7,253.6" fill="#fff"/>
<text class="sans" x="1045.16" y="316.20" font-size="20.64" textLength="76.82" lengthAdjust="spacingAndGlyphs" fill="#fff">Tension-</text>
<text class="sans" x="1058.13" y="340.60" font-size="19.73" textLength="50.80" lengthAdjust="spacingAndGlyphs" fill="#fff">shear</text>
<text class="sans" x="1050.89" y="365.00" font-size="19.73" textLength="61.58" lengthAdjust="spacingAndGlyphs" fill="#fff">cracks</text>
<clipPath id="cl6"><rect x="1017.1" y="567.1" width="205.8" height="226.8"/></clipPath>
<g clip-path="url(#cl6)">
<filter id="bf11" x="975" y="525" width="290" height="311" filterUnits="userSpaceOnUse"><feGaussianBlur stdDeviation="3.5"/></filter>
<g filter="url(#bf11)">
<linearGradient id="g50" gradientUnits="userSpaceOnUse" x1="0" y1="567" x2="0" y2="780"><stop offset="0.0000" stop-color="#F0A020"/><stop offset="0.1549" stop-color="#F0B020"/><stop offset="0.3897" stop-color="#E8C400"/><stop offset="0.6009" stop-color="#D8C810"/><stop offset="0.6620" stop-color="#90C028"/><stop offset="0.6995" stop-color="#40A860"/><stop offset="0.7371" stop-color="#1880D0"/><stop offset="0.9061" stop-color="#1070D8"/><stop offset="0.9577" stop-color="#0838A8"/><stop offset="1.0000" stop-color="#000850"/></linearGradient>
<rect x="1000" y="550" width="240" height="260" fill="url(#g50)" />
<radialGradient id="r51"><stop offset="0" stop-color="#F08030" stop-opacity="1"/><stop offset="0.5" stop-color="#F08030" stop-opacity="0.9"/><stop offset="1" stop-color="#F08030" stop-opacity="0"/></radialGradient>
<ellipse cx="1045" cy="590" rx="45" ry="38" fill="url(#r51)" transform="rotate(0 1045 590)"/>
<radialGradient id="r52"><stop offset="0" stop-color="#F03830" stop-opacity="1"/><stop offset="0.5" stop-color="#F03830" stop-opacity="0.9"/><stop offset="1" stop-color="#F03830" stop-opacity="0"/></radialGradient>
<ellipse cx="1030" cy="572" rx="48" ry="30" fill="url(#r52)" transform="rotate(0 1030 572)"/>
<rect x="1173" y="550" width="67" height="90" fill="#E0D000" />
<rect x="1078" y="550" width="58" height="36" fill="#B0C820" />
<rect x="1141" y="550" width="33" height="32" fill="#2080B0" />
<radialGradient id="r53"><stop offset="0" stop-color="#F0A828" stop-opacity="1"/><stop offset="0.55" stop-color="#F0A828" stop-opacity="0.9"/><stop offset="1" stop-color="#F0A828" stop-opacity="0"/></radialGradient>
<ellipse cx="1088" cy="640" rx="62" ry="56" fill="url(#r53)" transform="rotate(0 1088 640)"/>
<radialGradient id="r54"><stop offset="0" stop-color="#E8CC00" stop-opacity="1"/><stop offset="0.6" stop-color="#E8CC00" stop-opacity="0.9"/><stop offset="1" stop-color="#E8CC00" stop-opacity="0"/></radialGradient>
<ellipse cx="1165" cy="635" rx="35" ry="55" fill="url(#r54)" transform="rotate(0 1165 635)"/>
<radialGradient id="r55"><stop offset="0" stop-color="#F07828" stop-opacity="1"/><stop offset="0.5" stop-color="#F07828" stop-opacity="0.9"/><stop offset="1" stop-color="#F07828" stop-opacity="0"/></radialGradient>
<ellipse cx="1066" cy="640" rx="14" ry="48" fill="url(#r55)" transform="rotate(0 1066 640)"/>
<radialGradient id="r56"><stop offset="0" stop-color="#F06030" stop-opacity="1"/><stop offset="0.5" stop-color="#F06030" stop-opacity="0.9"/><stop offset="1" stop-color="#F06030" stop-opacity="0"/></radialGradient>
<ellipse cx="1105" cy="660" rx="14" ry="26" fill="url(#r56)" transform="rotate(0 1105 660)"/>
<radialGradient id="r57"><stop offset="0" stop-color="#E83040" stop-opacity="1"/><stop offset="0.5" stop-color="#E83040" stop-opacity="0.9"/><stop offset="1" stop-color="#E83040" stop-opacity="0"/></radialGradient>
<ellipse cx="1128" cy="604" rx="24" ry="9" fill="url(#r57)" transform="rotate(0 1128 604)"/>
<linearGradient id="g58" gradientUnits="userSpaceOnUse" x1="0" y1="640" x2="0" y2="780"><stop offset="0.0000" stop-color="#D8CC10"/><stop offset="0.1786" stop-color="#80B830"/><stop offset="0.3214" stop-color="#40A050"/><stop offset="0.4643" stop-color="#2090A8"/><stop offset="0.6071" stop-color="#1878D8"/><stop offset="0.8571" stop-color="#1068D0"/><stop offset="0.9357" stop-color="#0838A8"/><stop offset="1.0000" stop-color="#000850"/></linearGradient>
<rect x="1170" y="640" width="70" height="170" fill="url(#g58)" />
<linearGradient id="g59" gradientUnits="userSpaceOnUse" x1="0" y1="640" x2="0" y2="780"><stop offset="0.0000" stop-color="#E0C800"/><stop offset="0.2857" stop-color="#90C028"/><stop offset="0.4286" stop-color="#60B030"/><stop offset="0.5714" stop-color="#1878D0"/><stop offset="0.8571" stop-color="#1060D0"/><stop offset="0.9357" stop-color="#0838A8"/><stop offset="1.0000" stop-color="#000850"/></linearGradient>
<rect x="1000" y="640" width="40" height="170" fill="url(#g59)" />
<radialGradient id="r60"><stop offset="0" stop-color="#70B848" stop-opacity="1"/><stop offset="0.5" stop-color="#70B848" stop-opacity="0.9"/><stop offset="1" stop-color="#70B848" stop-opacity="0"/></radialGradient>
<ellipse cx="1110" cy="730" rx="48" ry="22" fill="url(#r60)" transform="rotate(0 1110 730)"/>
<linearGradient id="g61" gradientUnits="userSpaceOnUse" x1="0" y1="750" x2="0" y2="771"><stop offset="0.0000" stop-color="#1868D0"/><stop offset="0.5714" stop-color="#182C80"/><stop offset="1.0000" stop-color="#000850"/></linearGradient>
<rect x="1063" y="750" width="104" height="26" fill="url(#g61)" />
<linearGradient id="g62" gradientUnits="userSpaceOnUse" x1="0" y1="771" x2="0" y2="779"><stop offset="0.0000" stop-color="#1050C0"/><stop offset="1.0000" stop-color="#000850"/></linearGradient>
<rect x="1000" y="771" width="65" height="39" fill="url(#g62)" />
<linearGradient id="g63" gradientUnits="userSpaceOnUse" x1="0" y1="771" x2="0" y2="782"><stop offset="0.0000" stop-color="#1060D0"/><stop offset="1.0000" stop-color="#000850"/></linearGradient>
<rect x="1165" y="771" width="75" height="39" fill="url(#g63)" />
</g>
<filter id="bf12" x="975" y="525" width="290" height="311" filterUnits="userSpaceOnUse"><feGaussianBlur stdDeviation="1.2"/></filter>
<g filter="url(#bf12)">
<rect x="1104" y="567" width="13" height="3" fill="#F04040" />
<rect x="1104" y="574" width="13" height="4" fill="#F04040" />
<ellipse cx="1137" cy="605" rx="2" ry="2" fill="#FFF0F0" transform="rotate(0 1137 605)" />
<rect x="1067" y="775" width="96" height="22" fill="#1878D8" />
<ellipse cx="1095" cy="790" rx="2" ry="2" fill="#001040" transform="rotate(0 1095 790)" />
<rect x="1090" y="782" width="3" height="8" fill="#50B040" />
<rect x="1113" y="776" width="3" height="20" fill="#F04040" />
<rect x="1119" y="776" width="3" height="20" fill="#F0C040" />
<rect x="1124" y="776" width="6" height="20" fill="#F0E8C0" />
</g>
</g>
<rect x="1034.7" y="717.8" width="168.79999999999995" height="53.10000000000002" fill="#fff" fill-opacity="0.22"/>
<line x1="1015" y1="566.05" x2="1225" y2="566.05" stroke="#C00000" stroke-width="2.1" stroke-dasharray="8.5 6.8" stroke-dashoffset="7.30"/>
<line x1="1016.05" y1="565" x2="1016.05" y2="796" stroke="#C00000" stroke-width="2.1" stroke-dasharray="8.5 6.8" stroke-dashoffset="14.00"/>
<line x1="1223.95" y1="565" x2="1223.95" y2="796" stroke="#C00000" stroke-width="2.1" stroke-dasharray="8.5 6.8" stroke-dashoffset="14.00"/>
<line x1="1225" y1="794.95" x2="1015" y2="794.95" stroke="#C00000" stroke-width="2.1" stroke-dasharray="8.5 6.8" stroke-dashoffset="11.30"/>
<rect x="1030.6" y="589.4" width="175.2" height="121" rx="17" fill="none" stroke="#fff" stroke-width="3.8" stroke-dasharray="17 13.8" stroke-dashoffset="17"/>
<text class="sans" x="1056.46" y="755.70" font-size="26.89" textLength="130.64" lengthAdjust="spacingAndGlyphs" fill="#fff">Rock burst</text>
<polyline points="144.2,947.2 148.4,943.7 151.8,940.9 154.6,938.1 160.9,936.5 165.1,936.3 169.9,937.5 173.4,936.3 179.0,935.1 181.8,933.3 183.2,931.2 188.7,926.6 192.2,926.0 196.4,925.2 197.1,923.5 202.6,922.4 208.2,920.7 215.2,918.0 217.3,915.2 217.3,912.4 220.0,910.0 224.2,910.6 229.1,909.6 234.7,908.2 238.8,906.1 243.7,904.7 245.8,902.6 250.7,900.6 251.4,897.8 251.4,894.7 257.6,893.3 261.1,890.4 267.4,886.6 274.3,887.1 279.2,886.4 284.8,884.5 287.6,880.8 291.0,874.8 294.5,871.3 294.5,868.5 298.7,867.4 303.6,865.8 309.1,863.7 314.0,858.8 318.4,853.4 321.4,851.2 321.4,849.0 327.3,846.8 330.2,843.8 336.1,840.1 342.8,837.5 345.0,834.5 348.7,831.3 350.1,827.6 355.3,826.5 359.0,820.6 370.8,816.5 370.8,809.1 381.1,804.0 382.6,800.3 387.8,793.7 387.8,788.5 396.6,785.5 401.0,781.1 403.2,776.0 412.8,764.9 419.5,761.7 422.4,758.3 426.8,753.8 426.8,750.1 433.5,744.2 434.2,739.1 443.8,735.1 448.2,726.5 454.1,721.4 461.1,712.7 466.2,709.0 469.9,705.3 470.6,702.3 477.3,695.7 481.7,689.8 483.9,685.7 486.9,683.6 492.8,681.2 492.8,677.3 501.6,672.8 503.8,668.4 509.0,661.8 511.7,656.6 511.2,650.0 514.2,643.3 520.5,638.9 525.2,637.4 525.5,634.9 531.9,632.3 537.8,632.7 540.7,630.5 546.6,621.9 551.8,606.5 556.9,599.5 558.4,591.7 562.8,585.8 562.4,581.8 573.2,580.6 578.3,577.0 587.4,570.4 587.4,566.0 594.0,558.6 596.5,544.6 596.2,539.5 606.5,534.7 610.2,532.4 609.5,525.0 625.7,521.0 626.9,515.9 633.4,510.3 634.6,504.4 639.7,500.4 640.5,497.9 645.6,498.5 644.9,492.3 659.6,490.1 661.1,484.9 660.4,479.0 667.8,472.4 675.1,459.8 674.4,456.6 682.1,452.2 681.5,445.4 694.3,444.0 698.7,444.8 706.1,441.1 706.1,437.4 713.5,433.3 717.9,429.6 723.2,426.6 725.2,432.2 735.5,428.7 742.7,416.5 744.9,407.7 748.8,401.9 752.1,404.2 757.6,412.1 760.4,427.6 764.2,438.1 768.4,449.7 771.4,447.5 781.9,432.0 788.6,423.2 790.8,429.8 797.4,440.9 797.4,466.3 806.3,479.0 806.4,500.9 814.3,506.7 814.3,510.0 824.9,514.1 832.7,524.2 832.7,533.0 856.7,535.3 856.7,540.4 872.8,544.1 877.8,554.0 875.5,567.6 875.1,587.2 884.8,606.0 884.5,627.9 890.7,655.3 896.2,675.7 898.4,687.0 898.2,696.4 908.0,701.0 908.9,705.4 919.4,723.8 922.0,744.8 927.6,765.8 927.3,787.7 930.8,809.6 935.2,825.4 940.4,838.5 942.7,853.4 944.3,857.2 944.3,849.1 952.6,849.4 954.1,850.7 962.6,848.4 967.1,843.6 974.2,841.9 975.2,844.6 979.7,844.1 981.2,841.6 984.2,842.1 989.3,843.9 994.3,843.3 995.8,841.9 1003.3,841.6 1006.4,845.1 1013.4,847.6 1015.4,850.2 1024.5,851.7 1034.0,852.4 1035.5,853.7 1042.6,854.7 1045.6,856.2 1045.6,858.2 1056.6,862.7 1057.1,866.8 1059.1,869.3" fill="none" stroke="#EF037F" stroke-width="3.4" stroke-linejoin="round" stroke-linecap="round"/>
<circle cx="299.8" cy="869.6" r="17" fill="none" stroke="#7030A0" stroke-opacity="0.55" stroke-width="2"/>
<circle cx="588.1" cy="567.4" r="17.5" fill="none" stroke="#7030A0" stroke-opacity="0.55" stroke-width="2"/>
<circle cx="784.7" cy="432.6" r="17" fill="none" stroke="#7030A0" stroke-opacity="0.55" stroke-width="2"/>
<circle cx="811.8" cy="485.7" r="17.5" fill="none" stroke="#7030A0" stroke-opacity="0.55" stroke-width="2"/>
<circle cx="879" cy="562.9" r="17" fill="none" stroke="#7030A0" stroke-opacity="0.55" stroke-width="2"/>
<line x1="245.9" y1="683.8" x2="287.8" y2="840.4" stroke="#7030A0" stroke-width="2.6"/>
<polygon points="294.5,865.5 279.0,840.7 295.6,836.2" fill="#7030A0"/>
<line x1="428.3" y1="416.6" x2="564.2" y2="545.2" stroke="#7030A0" stroke-width="2.6"/>
<polygon points="583.1,563.1 556.9,550.1 568.7,537.6" fill="#7030A0"/>
<line x1="748.5" y1="354.9" x2="777.4" y2="415.1" stroke="#7030A0" stroke-width="2.6"/>
<polygon points="788.6,438.5 768.7,417.0 784.2,409.5" fill="#7030A0"/>
<line x1="901.6" y1="396.7" x2="829.3" y2="463.1" stroke="#7030A0" stroke-width="2.6"/>
<polygon points="810.1,480.7 824.9,455.4 836.5,468.1" fill="#7030A0"/>
<line x1="1082.6" y1="380.4" x2="839.0" y2="484.6" stroke="#7030A0" stroke-width="2.6"/>
<polygon points="815.1,494.8 837.5,475.9 844.2,491.7" fill="#7030A0"/>
<line x1="1010.6" y1="684.8" x2="899.3" y2="578.5" stroke="#7030A0" stroke-width="2.6"/>
<polygon points="880.5,560.5 906.7,573.6 894.8,586.1" fill="#7030A0"/>
<text class="serif" font-style="italic" x="617.09" y="111.50" font-size="36.35" textLength="238.10" lengthAdjust="spacingAndGlyphs" fill="#000">Primary fracture</text>
<text class="serif" font-style="italic" x="894.31" y="91.20" font-size="34.82" textLength="300.24" lengthAdjust="spacingAndGlyphs" fill="#000">Energy accumulation</text>
<text class="serif" font-style="italic" x="894.09" y="134.90" font-size="34.59" textLength="270.70" lengthAdjust="spacingAndGlyphs" fill="#000">Secondary fracture</text>
<text class="serif" font-style="italic" x="960.59" y="538.40" font-size="35.49" textLength="299.31" lengthAdjust="spacingAndGlyphs" fill="#000">Secondary rock burst</text>
<path d="M1196 82.3 H1228 M1220.3 76.2 L1228.6 82.3 L1220.3 88.6" fill="none" stroke="#000" stroke-width="1.9" stroke-linejoin="miter"/>
</svg></body></html>
